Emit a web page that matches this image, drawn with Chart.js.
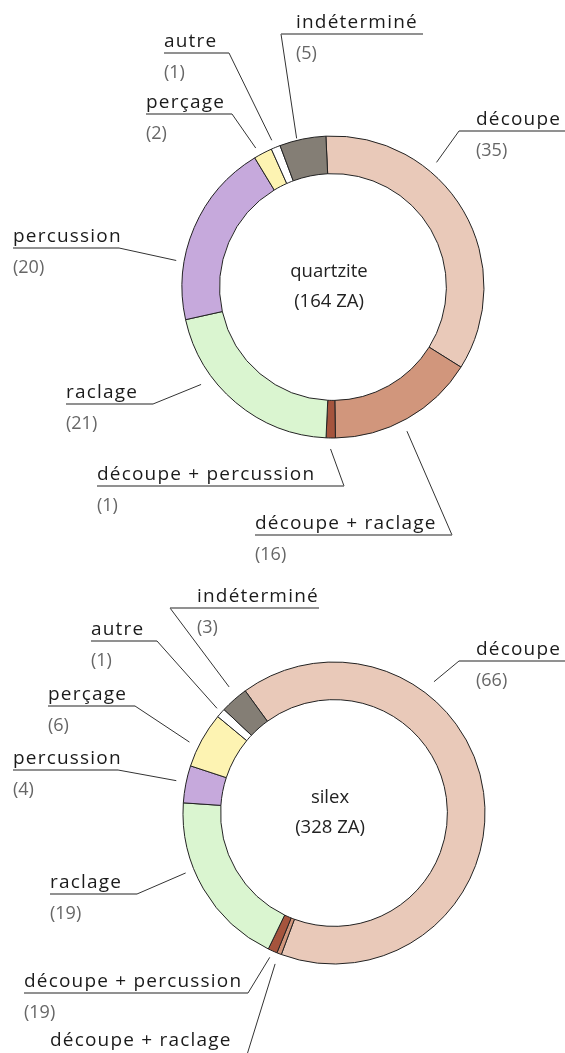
<!DOCTYPE html>
<html lang="fr">
<head>
<meta charset="UTF-8" />
<title>Zones actives par matière</title>
<script src="https://cdn.jsdelivr.net/npm/chart.js"></script>
<style>
    html, body { margin: 0; padding: 0; background: #fff; }
    .bloc { position: absolute; left: 0; width: 565px; }
    #bloc-quartzite { top: 0; height: 565px; }
    #bloc-silex { top: 565px; height: 488px; }
</style>
</head>
<body>
<div class="bloc" id="bloc-quartzite"><canvas id="graphe-quartzite"></canvas></div>
<div class="bloc" id="bloc-silex"><canvas id="graphe-silex"></canvas></div>

<script>
    // données
    const categories = ['découpe', 'découpe + raclage', 'découpe + percussion', 'raclage',
        'percussion', 'perçage', 'autre', 'indéterminé'];
    const couleurs = ['#e9c9b9', '#d1967c', '#a5543d', '#daf5d0', '#c6a9dc', '#fdf3b2', '#ffffff', '#847e75'];

    const quartziteValeurs = [35, 16, 1, 21, 20, 2, 1, 5];
    const quartziteNombres = [35, 16, 1, 21, 20, 2, 1, 5];
    const silexValeurs = [66, 0.5, 1, 19, 4, 6, 1, 3];
    const silexNombres = [66, null, 19, 19, 4, 6, 1, 3];   // tels qu'imprimés sur la figure

    const POLICE = '"Open Sans", "DejaVu Sans", sans-serif';

    // mise en page des étiquettes (coordonnées de la page) : texte, soulignement, ancrage du trait
    const quartziteMep = [
        { tx: 476, uy: 131, u1: 459, u2: 565, bout: 'g', t: 0.34, ecart: 11 },
        { tx: 255, uy: 535, u1: 255, u2: 452, bout: 'd', t: 0.54, ecart: 11 },
        { tx: 97,  uy: 486, u1: 97,  u2: 344, bout: 'd', t: 0.5,  ecart: 11 },
        { tx: 66,  uy: 404, u1: 66,  u2: 153, bout: 'd', t: 0.68, ecart: 13 },
        { tx: 13,  uy: 248, u1: 13,  u2: 119, bout: 'd', t: 0.31, ecart: 8 },
        { tx: 146, uy: 114, u1: 146, u2: 232, bout: 'd', t: 0.3,  ecart: 8 },
        { tx: 164, uy: 53,  u1: 164, u2: 229, bout: 'd', t: 0.4,  ecart: 8 },
        { tx: 296, uy: 34,  u1: 281, u2: 423, bout: 'g', t: 0.38, ecart: 2 }
    ];
    const silexMep = [
        { tx: 476, uy: 661, u1: 459, u2: 565, bout: 'g', t: 0.31, ecart: 14 },
        { tx: 50,  uy: 1058, u1: 50, u2: 246, bout: 'd', t: 0.5,  ecart: 11, dy: 12 },
        { tx: 24,  uy: 993, u1: 24,  u2: 248, bout: 'd', t: 0.5,  ecart: 7 },
        { tx: 50,  uy: 894, u1: 50,  u2: 137, bout: 'd', t: 0.62, ecart: 9 },
        { tx: 13,  uy: 770, u1: 13,  u2: 118, bout: 'd', t: 0.54, ecart: 10 },
        { tx: 48,  uy: 706, u1: 48,  u2: 135, bout: 'd', t: 0.37, ecart: 10 },
        { tx: 91,  uy: 641, u1: 91,  u2: 157, bout: 'd', t: 0.6,  ecart: 6 },
        { tx: 197, uy: 608, u1: 170, u2: 319, bout: 'g', t: 0.65, ecart: 13 }
    ];

    function etiquettes(id, mep, nombres, decalY, centre) {
        return {
            id: id,
            afterDraw(chart) {
                const ctx = chart.ctx;
                const arcs = chart.getDatasetMeta(0).data;
                ctx.save();
                ctx.translate(0, -decalY);
                mep.forEach((m, i) => {
                    const a = arcs[i];
                    const p = a.getProps(['x', 'y', 'startAngle', 'endAngle', 'outerRadius'], true);
                    const ang = p.startAngle + m.t * (p.endAngle - p.startAngle);
                    const r = p.outerRadius + m.ecart;
                    const ex = p.x + Math.cos(ang) * r;
                    const ey = p.y + decalY + Math.sin(ang) * r;
                    const sx = m.bout === 'g' ? m.u1 : m.u2;

                    ctx.strokeStyle = '#333';
                    ctx.lineWidth = 1;
                    ctx.beginPath();
                    ctx.moveTo(sx, m.uy);
                    ctx.lineTo(ex, ey);
                    ctx.stroke();

                    ctx.strokeStyle = '#6d6d6d';
                    ctx.lineWidth = 1.4;
                    ctx.beginPath();
                    ctx.moveTo(m.u1, m.uy);
                    ctx.lineTo(m.u2, m.uy);
                    ctx.stroke();

                    ctx.letterSpacing = '1.2px';
                    ctx.textAlign = 'left';
                    ctx.textBaseline = 'alphabetic';
                    ctx.fillStyle = '#1b1b1b';
                    ctx.font = '19px ' + POLICE;
                    ctx.fillText(categories[i], m.tx, m.uy - (m.dy || 6));

                    if (nombres[i] !== null) {
                        ctx.letterSpacing = '0px';
                        ctx.fillStyle = '#666';
                        ctx.font = '18px ' + POLICE;
                        ctx.textBaseline = 'middle';
                        ctx.fillText('(' + nombres[i] + ')', m.tx, m.uy + 20);
                    }
                });
                ctx.restore();

                // texte central
                const c = arcs[0];
                ctx.save();
                ctx.letterSpacing = '0px';
                ctx.fillStyle = '#222';
                ctx.font = '18.5px ' + POLICE;
                ctx.textAlign = 'center';
                ctx.textBaseline = 'middle';
                ctx.fillText(centre[0], c.x - 4, c.y - 15);
                ctx.fillText(centre[1], c.x - 4, c.y + 15);
                ctx.restore();
            }
        };
    }

    function anneau(canvasId, valeurs, rotation, padding, plugin) {
        return new Chart(document.getElementById(canvasId), {
            type: 'doughnut',
            data: {
                labels: categories,
                datasets: [{
                    data: valeurs,
                    backgroundColor: couleurs,
                    borderColor: '#222',
                    borderWidth: 1,
                    hoverOffset: 0,
                    borderJoinStyle: 'miter'
                }]
            },
            options: {
                responsive: true,
                maintainAspectRatio: false,
                animation: false,
                events: [],
                rotation: rotation,
                radius: 151,
                cutout: 113,
                layout: { padding: padding },
                plugins: {
                    legend: { display: false },
                    tooltip: { enabled: false }
                }
            },
            plugins: [plugin]
        });
    }

    anneau('graphe-quartzite', quartziteValeurs, -2.7,
        { left: 182, right: 81, top: 136, bottom: 127 },
        etiquettes('etiq-quartzite', quartziteMep, quartziteNombres, 0, ['quartzite', '(164 ZA)']));

    anneau('graphe-silex', silexValeurs, -36,
        { left: 183, right: 80, top: 97, bottom: 89 },
        etiquettes('etiq-silex', silexMep, silexNombres, 565, ['silex', '(328 ZA)']));
</script>
</body>
</html>
